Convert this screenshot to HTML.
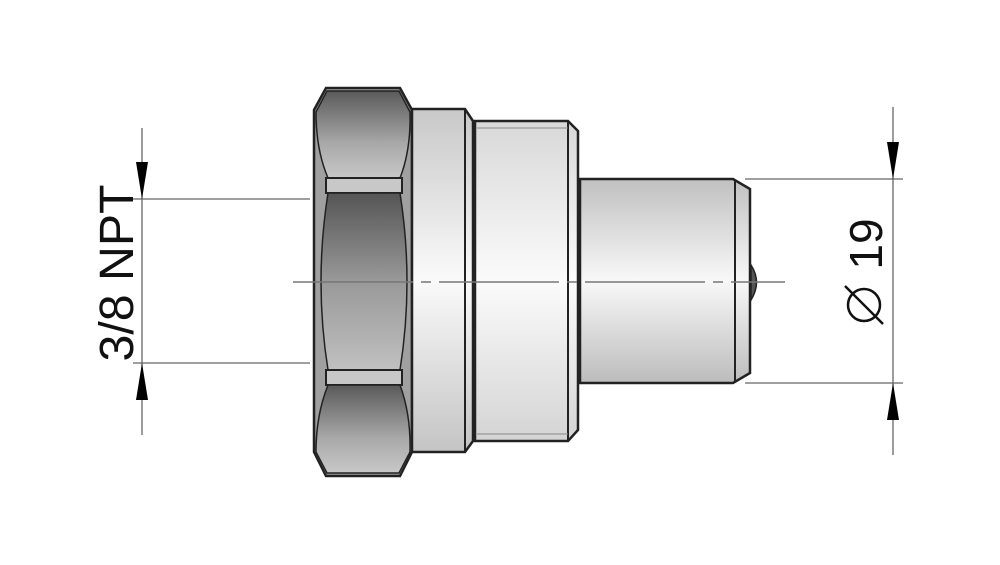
<!DOCTYPE html>
<html><head><style>html,body{margin:0;padding:0;background:#fff}svg{display:block}</style></head>
<body>
<svg width="1000" height="565" viewBox="0 0 1000 565" xmlns="http://www.w3.org/2000/svg">
<defs>
<linearGradient id="hx" x1="0" y1="0" x2="0" y2="1">
<stop offset="0" stop-color="#5a5a5a"/><stop offset="0.6" stop-color="#a8a8a8"/><stop offset="1" stop-color="#c8c8c8"/></linearGradient>
<linearGradient id="hm" x1="0" y1="0" x2="0" y2="1">
<stop offset="0" stop-color="#555"/><stop offset="0.5" stop-color="#999"/><stop offset="1" stop-color="#c0c0c0"/></linearGradient>
<linearGradient id="cy" x1="0" y1="0" x2="0" y2="1">
<stop offset="0" stop-color="#c8c8c8"/><stop offset="0.5" stop-color="#fafafa"/><stop offset="1" stop-color="#c4c4c4"/></linearGradient>
<linearGradient id="bd" x1="0" y1="0" x2="0" y2="1">
<stop offset="0" stop-color="#d8d8d8"/><stop offset="0.5" stop-color="#fbfbfb"/><stop offset="1" stop-color="#d4d4d4"/></linearGradient>
<linearGradient id="pn" x1="0" y1="0" x2="0" y2="1">
<stop offset="0" stop-color="#c0c0c0"/><stop offset="0.5" stop-color="#f8f8f8"/><stop offset="1" stop-color="#bcbcbc"/></linearGradient>
</defs>
<g stroke="#222" stroke-width="2.5">
<polygon points="326,88 400,88 412,110 412,452 400,476 326,476 314,452 314,110" fill="#a0a0a0"/>
<path d="M316,112 L327,91 L399,91 L410,112 Q411,150 400,178 L328,178 Q316,150 316,112Z" fill="url(#hx)" stroke-width="1.5"/>
<rect x="326" y="178" width="76" height="15" fill="#c8c8c8" stroke-width="2"/>
<path d="M328,193 L400,193 Q414,282 400,370 L328,370 Q314,282 328,193Z" fill="url(#hm)" stroke-width="1.5"/>
<rect x="326" y="370" width="76" height="15" fill="#c8c8c8" stroke-width="2"/>
<path d="M328,385 L400,385 Q411,415 410,452 L399,473 L327,473 L316,452 Q316,415 328,385Z" fill="url(#hx)" stroke-width="1.5"/>
<polygon points="412,109 465,109 473,121 473,441 465,452 412,452" fill="url(#cy)"/>
<line x1="465" y1="109" x2="465" y2="452" stroke-width="2"/>
<polygon points="475,121 568,121 578,131 578,430 568,441 475,441" fill="url(#bd)"/>
<line x1="568" y1="121" x2="568" y2="441" stroke-width="2"/>
<line x1="477" y1="128" x2="568" y2="128" stroke="#888" stroke-width="1"/>
<line x1="477" y1="434" x2="568" y2="434" stroke="#888" stroke-width="1"/>
<polygon points="580,179 733,179 750,189 750,373 733,383 580,383" fill="url(#pn)"/>
<line x1="735" y1="180" x2="735" y2="382" stroke-width="2"/>
<path d="M751,265 Q762,282 751,300 Z" fill="#555" stroke-width="1.5"/>
</g>
<line x1="293" y1="282" x2="785" y2="282" stroke="#777" stroke-width="1.5" stroke-dasharray="120,8,10,8"/>
<g stroke="#666" stroke-width="1.3">
<line x1="893" y1="107" x2="893" y2="455"/>
<line x1="745" y1="179" x2="903" y2="179"/>
<line x1="745" y1="383" x2="903" y2="383"/>
<line x1="133" y1="199" x2="310" y2="199"/>
<line x1="133" y1="363" x2="310" y2="363"/>
<line x1="142" y1="128" x2="142" y2="435"/>
</g>
<g fill="#000">
<polygon points="887,142 899,142 893,179"/>
<polygon points="887,420 899,420 893,383"/>
<polygon points="136,162 148,162 142,199"/>
<polygon points="136,400 148,400 142,363"/>
</g>
<text transform="translate(133,273) rotate(-90)" text-anchor="middle" font-family="Liberation Sans, sans-serif" font-size="48" fill="#111" textLength="177" lengthAdjust="spacingAndGlyphs">3/8 NPT</text>
<text transform="translate(882,244) rotate(-90)" text-anchor="middle" font-family="Liberation Sans, sans-serif" font-size="46" fill="#111">19</text>
<g transform="translate(864,305)" stroke="#111" stroke-width="2.5" fill="none">
<circle cx="0" cy="0" r="16"/>
<line x1="-19" y1="-19" x2="19" y2="19"/>
</g>
</svg>
</body></html>
